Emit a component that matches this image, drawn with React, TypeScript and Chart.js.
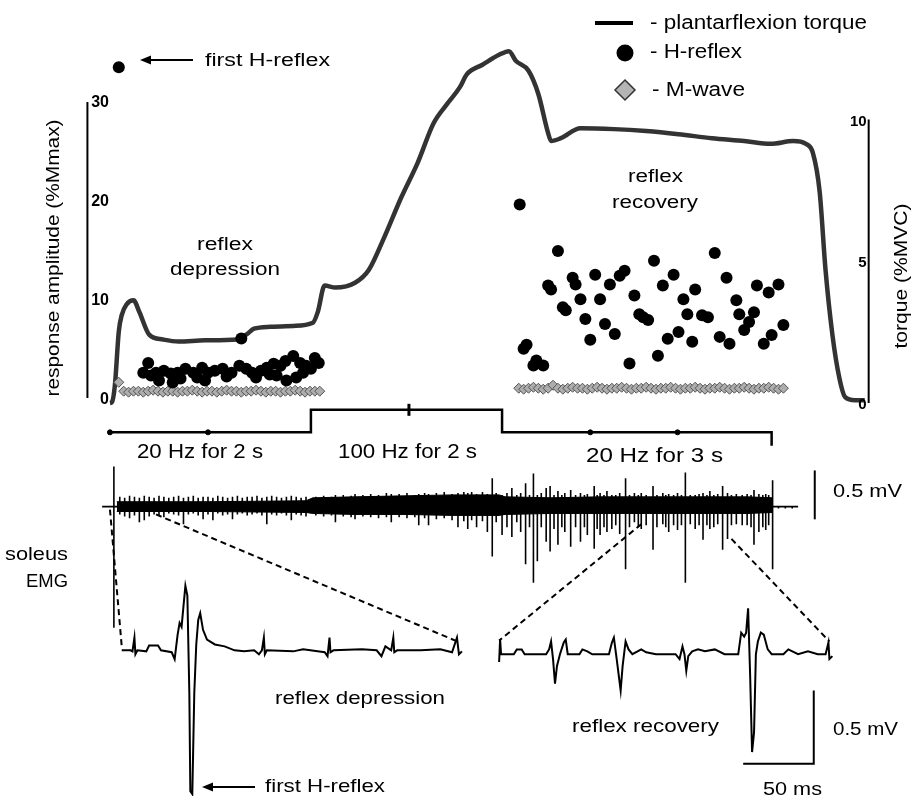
import { useEffect, useRef } from "react";
import { Chart, registerables } from "chart.js";

Chart.register(...registerables);

// ---------------- DATA ----------------
// Top panel: time in s, torque in %MVC
const torqueTime = [0.00,0.02,0.05,0.09,0.12,0.17,0.24,0.30,0.40,0.54,0.70,0.97,1.30,1.39,1.47,1.64,1.87,2.07,2.12,2.19,2.30,2.50,2.64,2.80,2.97,3.14,3.30,3.44,3.57,3.64,3.80,3.97,4.07,4.14,4.27,4.37,4.47,4.50,4.60,4.80,5.14,5.47,5.80,6.14,6.47,6.74,6.97,7.10,7.17,7.24,7.30,7.37,7.44,7.50,7.60,7.70];
const torqueValue = [0.00,0.03,0.62,2.52,3.10,3.48,3.62,3.21,2.41,2.24,2.17,2.21,2.24,2.41,2.62,2.69,2.72,2.83,3.21,4.14,4.07,4.24,4.69,5.86,7.24,8.48,9.86,10.55,11.14,11.59,11.93,12.28,12.41,12.07,11.72,10.90,9.52,9.24,9.34,9.69,9.66,9.59,9.48,9.34,9.24,9.14,9.24,9.14,8.83,7.45,4.69,2.41,0.90,0.21,0.10,0.10];

// H-reflex amplitude (%Mmax)
const hReflexTime = [0.09,
  0.34,0.39,0.42,0.47,0.50,0.55,0.62,0.64,0.69,0.72,0.77,0.85,0.89,0.94,0.97,1.00,1.07,1.15,1.19,1.24,1.32,1.34,1.39,1.45,1.49,1.54,1.60,1.63,1.67,1.70,1.74,1.79,1.80,1.87,1.90,1.94,1.97,2.00,2.05,2.09,2.13,
  4.18,4.22,4.25,4.32,4.35,4.42,4.47,4.50,4.57,4.62,4.65,4.72,4.75,4.80,4.85,4.90,4.95,5.00,5.05,5.10,5.15,5.20,5.25,5.30,5.35,5.40,5.44,5.49,5.55,5.59,5.64,5.69,5.75,5.80,5.85,5.89,5.94,5.97,6.04,6.10,6.17,6.22,6.29,6.32,6.39,6.42,6.47,6.52,6.57,6.60,6.67,6.72,6.75,6.82,6.87];
const hReflexAmp = [33.5,
  2.57,3.56,2.28,2.57,1.78,2.77,2.48,1.58,2.57,1.98,2.97,2.57,2.08,3.07,1.78,2.57,2.77,2.97,2.18,2.57,3.27,6.04,2.97,2.57,2.08,2.77,3.07,2.38,3.47,2.28,3.27,3.76,1.78,4.26,2.08,3.56,2.57,3.27,2.97,4.06,3.56,
  19.6,5.0,5.4,3.3,3.8,3.3,11.4,11.0,14.9,9.2,8.9,12.2,11.5,10.0,8.0,5.9,12.5,10.0,7.5,11.5,6.5,12.4,12.9,3.5,10.4,8.5,8.2,7.9,13.9,4.3,11.4,6.0,12.5,6.7,10.0,8.5,5.7,11.0,8.4,8.2,14.7,6.2,12.2,5.5,9.9,8.5,6.9,7.7,8.7,11.4,5.5,10.7,6.4,11.5,7.4];

// M-wave amplitude (%Mmax)
const mWaveTime = [0.09,0.14,0.19,0.24,0.29,0.34,0.39,0.44,0.49,0.54,0.59,0.64,0.69,0.74,0.79,0.84,0.89,0.94,0.99,1.04,1.09,1.14,1.19,1.24,1.29,1.34,1.39,1.44,1.49,1.54,1.59,1.64,1.69,1.74,1.79,1.84,1.89,1.94,1.99,2.04,2.09,2.14,
  4.17,4.22,4.27,4.32,4.37,4.42,4.47,4.52,4.57,4.62,4.67,4.72,4.77,4.82,4.87,4.92,4.97,5.02,5.07,5.12,5.17,5.22,5.27,5.32,5.37,5.42,5.47,5.52,5.57,5.62,5.67,5.72,5.77,5.82,5.87,5.92,5.97,6.02,6.07,6.12,6.17,6.22,6.27,6.32,6.37,6.42,6.47,6.52,6.57,6.62,6.67,6.72,6.77,6.82,6.87];
const mWaveAmp = [1.6,0.7,0.6,0.7,0.7,0.6,0.7,0.8,0.7,0.6,0.7,0.7,0.6,0.7,0.7,0.8,0.7,0.6,0.7,0.7,0.6,0.7,0.8,0.7,0.7,0.6,0.7,0.7,0.8,0.7,0.6,0.7,0.7,0.6,0.7,0.7,0.8,0.7,0.6,0.7,0.7,0.7,
  1.0,0.9,1.0,1.1,1.0,0.9,1.0,1.3,1.0,0.9,1.0,1.1,1.0,1.0,0.9,1.0,1.1,1.0,0.9,1.0,1.0,1.1,1.0,0.9,1.0,1.0,1.1,1.0,0.9,1.0,1.0,1.1,1.0,0.9,1.0,1.0,1.1,1.0,0.9,1.0,1.0,1.1,1.0,0.9,1.0,1.0,1.1,1.0,0.9,1.0,1.0,1.1,1.0,0.9,1.0];

// Stimulation timeline (level 0 = 20 Hz, 1 = 100 Hz)
const stimTime = [0, 2.05, 2.05, 4.0, 4.0, 6.75, 6.75];
const stimLevel = [0, 0, 1, 1, 0, 0, -0.6];
const stimDotTime = [0, 1.0, 4.9, 5.79];
const stimDotLevel = [0, 0, 0, 0];
const stimMarkTime = [3.05];
const stimMarkLevel = [1];

// Soleus EMG (mV): spike times, positive and negative peaks
const emgFirstTime = [0.04];
const emgFirstUp = [0.41];
const emgFirstDown = [-1.24];
const emg20aTime = [0.10,0.15,0.20,0.25,0.30,0.35,0.40,0.45,0.50,0.55,0.60,0.65,0.70,0.75,0.80,0.85,0.90,0.95,1.00,1.05,1.10,1.15,1.20,1.25,1.30,1.35,1.40,1.45,1.50,1.55,1.60,1.65,1.70,1.75,1.80,1.85,1.90,1.95,2.00];
const emg20aUp = [0.10,0.09,0.11,0.10,0.09,0.11,0.10,0.09,0.11,0.10,0.09,0.10,0.11,0.09,0.10,0.11,0.09,0.10,0.10,0.09,0.11,0.10,0.09,0.10,0.11,0.09,0.10,0.10,0.11,0.09,0.10,0.11,0.10,0.09,0.10,0.11,0.10,0.09,0.10];
const emg20aDown = [-0.08,-0.10,-0.12,-0.09,-0.16,-0.14,-0.10,-0.08,-0.09,-0.11,-0.07,-0.08,-0.09,-0.18,-0.08,-0.07,-0.09,-0.13,-0.08,-0.14,-0.07,-0.09,-0.08,-0.13,-0.08,-0.07,-0.09,-0.08,-0.07,-0.09,-0.18,-0.08,-0.09,-0.07,-0.09,-0.14,-0.08,-0.09,-0.10];
const emg100Time = [2.10,2.18,2.26,2.30,2.38,2.46,2.50,2.58,2.66,2.74,2.82,2.87,2.95,3.03,3.11,3.15,3.21,3.25,3.33,3.41,3.49,3.55,3.61,3.65,3.69,3.74,3.80,3.85,3.90,3.94];
const emg100Up = [0.10,0.11,0.10,0.12,0.12,0.11,0.13,0.12,0.13,0.12,0.14,0.13,0.13,0.14,0.12,0.13,0.14,0.13,0.14,0.15,0.13,0.14,0.15,0.14,0.15,0.13,0.15,0.13,0.29,0.14];
const emg100Down = [-0.09,-0.10,-0.09,-0.16,-0.10,-0.11,-0.13,-0.10,-0.11,-0.12,-0.11,-0.16,-0.11,-0.12,-0.11,-0.19,-0.12,-0.19,-0.13,-0.12,-0.14,-0.21,-0.15,-0.23,-0.14,-0.21,-0.15,-0.26,-0.51,-0.16];
const emg20bTime = [4.00,4.05,4.10,4.15,4.19,4.24,4.28,4.32,4.36,4.40,4.45,4.49,4.53,4.57,4.61,4.64,4.70,4.75,4.80,4.84,4.87,4.94,4.97,5.00,5.04,5.07,5.12,5.16,5.20,5.26,5.30,5.35,5.39,5.42,5.47,5.54,5.58,5.64,5.67,5.70,5.75,5.79,5.83,5.87,5.92,5.97,6.01,6.05,6.09,6.12,6.16,6.20,6.25,6.30,6.34,6.39,6.45,6.50,6.54,6.57,6.62,6.66,6.69,6.72,6.76];
const emg20bUp = [0.12,0.14,0.19,0.12,0.14,0.24,0.12,0.34,0.12,0.14,0.19,0.21,0.12,0.16,0.12,0.14,0.17,0.12,0.14,0.12,0.13,0.21,0.12,0.14,0.12,0.16,0.12,0.12,0.14,0.29,0.12,0.14,0.12,0.14,0.12,0.21,0.12,0.14,0.12,0.13,0.12,0.14,0.12,0.35,0.12,0.12,0.13,0.14,0.12,0.16,0.12,0.13,0.21,0.14,0.12,0.13,0.12,0.13,0.12,0.17,0.13,0.12,0.13,0.12,0.27];
const emg20bDown = [-0.29,-0.21,-0.31,-0.16,-0.26,-0.59,-0.21,-0.78,-0.56,-0.21,-0.36,-0.46,-0.23,-0.39,-0.21,-0.26,-0.41,-0.21,-0.36,-0.21,-0.29,-0.43,-0.23,-0.29,-0.21,-0.26,-0.23,-0.19,-0.28,-0.64,-0.21,-0.16,-0.21,-0.23,-0.19,-0.44,-0.21,-0.18,-0.21,-0.26,-0.19,-0.24,-0.19,-0.78,-0.18,-0.23,-0.19,-0.34,-0.19,-0.23,-0.21,-0.18,-0.44,-0.33,-0.19,-0.18,-0.19,-0.19,-0.21,-0.39,-0.26,-0.21,-0.24,-0.19,-0.64];
const emgTailTime = [6.82, 6.89, 6.96];
const emgTailUp = [0.01, 0.01, 0.01];
const emgTailDown = [-0.02, -0.02, -0.02];
// dense background activity envelope (mV)
const emgBandTime = [0.07,1.00,2.00,2.07,2.50,3.00,3.50,3.97,4.03,4.50,5.00,5.50,6.00,6.50,6.76];
const emgBandUpper = [0.05,0.05,0.06,0.09,0.10,0.11,0.12,0.12,0.10,0.09,0.10,0.10,0.10,0.10,0.09];
const emgBandLower = [-0.05,-0.05,-0.06,-0.07,-0.08,-0.08,-0.09,-0.09,-0.08,-0.07,-0.07,-0.07,-0.07,-0.07,-0.06];
const emgBarTime = [7.19, 7.19];
const emgBarValue = [-0.13, 0.37];

// Expanded sweeps: time in ms, mV
const zoomDepTime = [0,6.3,7.6,9.0,9.7,11.1,17.4,19.4,25.7,27.8,35.4,37.5,39.6,41.0,42.4,43.8,45.1,46.5,47.9,48.6,50.0,51.4,52.8,54.2,55.6,57.6,60.4,66.0,72.9,79.9,86.8,93.8,97.2,99.3,100.7,101.4,102.8,121.5,128.5,143.8,145.8,147.2,147.9,150.0,170.1,180.6,184.0,186.8,190.9,192.4,193.1,195.1,211.8,225.7,234.0,237.5,238.9,241.0];
const zoomDepValue = [0,0,-0.007,0.087,-0.027,0,-0.007,0.033,0.033,0,-0.013,-0.06,0.107,0.187,0.16,0.307,0.44,0.373,-0.293,-0.96,-0.98,-0.293,0.04,0.207,0.253,0.14,0.073,0.04,0.027,0,-0.007,0,-0.027,0,0.087,-0.027,0,-0.007,0.007,-0.013,-0.04,0.087,-0.013,0,0.007,0,-0.04,0.027,0,0.087,-0.013,0,0,0.007,-0.013,0.087,-0.027,-0.007];
const zoomRecTime = [0,0.7,1.4,10.4,12.5,16.0,18.1,33.3,35.4,36.8,38.2,39.6,41.0,43.1,45.8,47.2,48.6,56.9,59.0,62.5,66.0,77.8,79.9,81.3,83.3,86.1,87.5,89.6,91.7,94.4,100.7,104.2,111.1,125.0,127.8,129.9,131.3,132.6,134.0,136.8,140.9,145.8,152.8,159.7,169.4,171.5,173.6,175.0,176.4,177.8,179.2,180.6,181.9,183.3,185.4,187.5,190.3,193.1,201.4,204.9,211.8,218.8,225.7,231.3,233.3,234.0,236.1];
const zoomRecValue = [-0.053,0.1,0,0,0.033,0.033,0,0,0.033,0.087,-0.033,-0.2,-0.08,0,0.08,0.1,0,0,0.033,0.02,0,0,0.08,0.113,-0.033,-0.247,-0.08,0.087,0.033,0,0.033,0.013,0,0,-0.033,0.053,0,-0.113,-0.013,0.02,0.033,0.02,0.033,0,0,0.147,0.12,0.147,0.313,-0.133,-0.667,-0.533,0,0.087,0.147,0.133,0.033,0,0,0.033,0,0.02,0,0,0.08,-0.033,-0.013];
const zoomBarTime = [172.9, 222.9, 222.9];
const zoomBarValue = [-0.747, -0.747, -0.247];

// Axis ticks
const ampTicks = [0, 10, 20, 30];
const torqueTicks = [0, 5, 10];

// ---------------- HELPERS ----------------
const FONT = '"Liberation Sans", Arial, Helvetica, sans-serif';
const pts = (xs: number[], ys: number[]) => xs.map((x, i) => ({ x, y: ys[i] }));

function drawText(ctx: any, str: string, x: number, y: number, w: number, size: number,
  align: string = "center", rotate = 0, bold = false, baseline: string = "alphabetic") {
  ctx.save();
  ctx.font = `${bold ? "bold " : ""}${size}px ${FONT}`;
  ctx.textAlign = align;
  ctx.textBaseline = baseline;
  const m = ctx.measureText(str).width;
  ctx.translate(x, y);
  if (rotate) ctx.rotate(rotate);
  if (w) ctx.scale(w / m, 1);
  ctx.fillStyle = "#000";
  ctx.fillText(str, 0, 0);
  ctx.restore();
}

function seg(ctx: any, x1: number, y1: number, x2: number, y2: number, w: number, dash: number[] = []) {
  ctx.save();
  ctx.lineWidth = w;
  ctx.strokeStyle = "#000";
  ctx.setLineDash(dash);
  ctx.beginPath();
  ctx.moveTo(x1, y1);
  ctx.lineTo(x2, y2);
  ctx.stroke();
  ctx.restore();
}

function arrowLeft(ctx: any, tipX: number, endX: number, y: number) {
  seg(ctx, tipX + 6, y, endX, y, 2);
  ctx.save();
  ctx.fillStyle = "#000";
  ctx.beginPath();
  ctx.moveTo(tipX, y);
  ctx.lineTo(tipX + 11, y - 4.5);
  ctx.lineTo(tipX + 11, y + 4.5);
  ctx.closePath();
  ctx.fill();
  ctx.restore();
}

const annotations = {
  id: "annotations",
  beforeDraw(chart: any) {
    const { ctx, width, height } = chart;
    ctx.save();
    ctx.fillStyle = "#fff";
    ctx.fillRect(0, 0, width, height);
    ctx.restore();
  },
  afterDraw(chart: any) {
    const { ctx, scales } = chart;
    const P = (id: string, v: number) => scales[id].getPixelForValue(v);

    // left axis (response amplitude)
    const ax = P("x", -0.23);
    seg(ctx, ax, P("yAmp", 0), ax, P("yAmp", 30), 2);
    ampTicks.forEach((v) => drawText(ctx, String(v), P("x", -0.01), P("yAmp", v) + 1, 0, 16, "right", 0, true, "middle"));
    drawText(ctx, "response amplitude (%Mmax)", 54, 258, 277, 18, "center", -Math.PI / 2, false, "middle");

    // right axis (torque)
    const rx = P("x", 7.74);
    seg(ctx, rx, P("yTq", 0), rx, P("yTq", 10), 2);
    torqueTicks.forEach((v) => drawText(ctx, String(v), P("x", 7.72), P("yTq", v) + 2, 0, 15, "right", 0, true, "middle"));
    drawText(ctx, "torque (%MVC)", 902, 276, 145, 19, "center", -Math.PI / 2, false, "middle");

    // legend
    seg(ctx, 595, 23, 633, 23, 4);
    ctx.save();
    ctx.fillStyle = "#000";
    ctx.beginPath();
    ctx.arc(625, 53, 8.5, 0, Math.PI * 2);
    ctx.fill();
    ctx.beginPath();
    ctx.moveTo(625, 80); ctx.lineTo(635, 90); ctx.lineTo(625, 100); ctx.lineTo(615, 90); ctx.closePath();
    ctx.fillStyle = "#b4b4b4"; ctx.fill();
    ctx.lineWidth = 1.5; ctx.strokeStyle = "#333"; ctx.stroke();
    ctx.restore();
    drawText(ctx, "- plantarflexion torque", 650, 29, 217, 20, "left");
    drawText(ctx, "- H-reflex", 650, 58, 92, 20, "left");
    drawText(ctx, "- M-wave", 652, 96, 93, 20, "left");

    // top panel labels
    arrowLeft(ctx, 140, 193, 60);
    drawText(ctx, "first H-reflex", 267.5, 66, 125, 18);
    drawText(ctx, "reflex", 225, 250, 56, 18);
    drawText(ctx, "depression", 225, 275, 110, 18);
    drawText(ctx, "reflex", 655.5, 182, 55, 18);
    drawText(ctx, "recovery", 655, 208, 86, 18);

    // stimulation labels
    drawText(ctx, "20 Hz for 2 s", 200, 458, 126, 20);
    drawText(ctx, "100 Hz for 2 s", 407.5, 458, 139, 20);
    drawText(ctx, "20 Hz for 3 s", 654.5, 462, 137, 20);

    // EMG labels
    drawText(ctx, "0.5 mV", 833, 497, 69, 19, "left");
    drawText(ctx, "soleus", 68, 560, 63, 19, "right");
    drawText(ctx, "EMG", 68, 587, 42, 19, "right");

    // dashed connectors from EMG trace to expanded sweeps
    const dash = [6, 4];
    seg(ctx, P("x", 0.0), P("yEmg", -0.03), P("xzL", 0), P("yZL", 0.027), 2, dash);
    seg(ctx, P("x", 0.47), P("yEmg", -0.08), P("xzL", 239.6), P("yZL", 0.053), 2, dash);
    seg(ctx, P("x", 5.42), P("yEmg", -0.18), P("xzR", 0), P("yZR", 0.093), 2, dash);
    seg(ctx, P("x", 6.34), P("yEmg", -0.33), P("xzR", 234), P("yZR", 0.087), 2, dash);

    // bottom labels
    drawText(ctx, "reflex depression", 360, 704, 170, 19);
    arrowLeft(ctx, 202, 255, 787);
    drawText(ctx, "first H-reflex", 325, 792, 120, 19);
    drawText(ctx, "reflex recovery", 645.5, 732, 147, 19);
    drawText(ctx, "0.5 mV", 833, 735, 65, 19, "left");
    drawText(ctx, "50 ms", 792.5, 795, 59, 19);
  },
};

export default function App() {
  const ref = useRef<HTMLCanvasElement>(null);

  useEffect(() => {
    const canvas = ref.current as HTMLCanvasElement;
    const emgPoints: { x: number; y: number }[] = [{ x: -0.08, y: 0 }];
    const addSpikes = (ts: number[], ups: number[], dns: number[]) =>
      ts.forEach((t, i) => {
        emgPoints.push({ x: t, y: 0 }, { x: t, y: ups[i] }, { x: t, y: dns[i] }, { x: t, y: 0 });
      });
    addSpikes(emgFirstTime, emgFirstUp, emgFirstDown);
    addSpikes(emg20aTime, emg20aUp, emg20aDown);
    addSpikes(emg100Time, emg100Up, emg100Down);
    addSpikes(emg20bTime, emg20bUp, emg20bDown);
    addSpikes(emgTailTime, emgTailUp, emgTailDown);
    emgPoints.push({ x: 7.02, y: 0 });

    const lineBase = { pointRadius: 0, tension: 0, fill: false, borderColor: "#000" };

    const chart = new Chart(canvas, {
      type: "line",
      data: {
        datasets: [
          {
            type: "line", label: "plantarflexion torque", data: pts(torqueTime, torqueValue),
            xAxisID: "x", yAxisID: "yTq", borderColor: "#333", borderWidth: 4.5, pointRadius: 0,
            cubicInterpolationMode: "monotone", fill: false, order: 3,
          },
          {
            type: "scatter", label: "M-wave", data: pts(mWaveTime, mWaveAmp), xAxisID: "x", yAxisID: "yAmp",
            pointStyle: "rectRot", pointRadius: 5, backgroundColor: "#adadad", borderColor: "#555", borderWidth: 1, order: 2,
          },
          {
            type: "scatter", label: "H-reflex", data: pts(hReflexTime, hReflexAmp), xAxisID: "x", yAxisID: "yAmp",
            pointRadius: 6, backgroundColor: "#000", borderColor: "#000", borderWidth: 0, order: 1,
          },
          { type: "line", label: "stimulation", data: pts(stimTime, stimLevel), xAxisID: "x", yAxisID: "yStim", ...lineBase, borderWidth: 2.5 },
          {
            type: "scatter", label: "stim ticks", data: pts(stimDotTime, stimDotLevel), xAxisID: "x", yAxisID: "yStim",
            pointRadius: 2.5, backgroundColor: "#000", borderColor: "#000",
          },
          {
            type: "scatter", label: "stim mark", data: pts(stimMarkTime, stimMarkLevel), xAxisID: "x", yAxisID: "yStim",
            pointStyle: "line", rotation: 90, pointRadius: 6, borderWidth: 3, borderColor: "#000",
          },
          {
            type: "line", label: "EMG band upper", data: pts(emgBandTime, emgBandUpper), xAxisID: "x", yAxisID: "yEmg",
            ...lineBase, borderWidth: 1, fill: "+1", backgroundColor: "#000",
          },
          { type: "line", label: "EMG band lower", data: pts(emgBandTime, emgBandLower), xAxisID: "x", yAxisID: "yEmg", ...lineBase, borderWidth: 1 },
          { type: "line", label: "soleus EMG", data: emgPoints, xAxisID: "x", yAxisID: "yEmg", ...lineBase, borderWidth: 1.6 },
          { type: "line", label: "EMG scale", data: pts(emgBarTime, emgBarValue), xAxisID: "x", yAxisID: "yEmg", ...lineBase, borderWidth: 2 },
          { type: "line", label: "reflex depression sweep", data: pts(zoomDepTime, zoomDepValue), xAxisID: "xzL", yAxisID: "yZL", ...lineBase, borderWidth: 2 },
          { type: "line", label: "reflex recovery sweep", data: pts(zoomRecTime, zoomRecValue), xAxisID: "xzR", yAxisID: "yZR", ...lineBase, borderWidth: 2 },
          { type: "line", label: "sweep scale", data: pts(zoomBarTime, zoomBarValue), xAxisID: "xzR", yAxisID: "yZR", ...lineBase, borderWidth: 2 },
        ] as any,
      },
      options: {
        responsive: false,
        animation: false,
        events: [],
        layout: { padding: 0 },
        plugins: { legend: { display: false }, tooltip: { enabled: false }, title: { display: false } },
        scales: {
          x: { type: "linear", axis: "x", display: false, min: -1.03, max: 8.08 },
          xzL: { type: "linear", axis: "x", display: false, min: -79.861, max: 552.778 },
          xzR: { type: "linear", axis: "x", display: false, min: -347.222, max: 285.417 },
          yAmp: { type: "linear", axis: "y", display: false, min: -40.297, max: 39.406 },
          yTq: { type: "linear", axis: "y", display: false, min: -13.862, max: 13.897 },
          yEmg: { type: "linear", axis: "y", display: false, min: -2.96, max: 5.09 },
          yStim: { type: "linear", axis: "y", display: false, min: -16.174, max: 18.826 },
          yZL: { type: "linear", axis: "y", display: false, min: -0.9933, max: 4.3733 },
          yZR: { type: "linear", axis: "y", display: false, min: -0.9667, max: 4.4 },
        } as any,
      },
      plugins: [annotations as any],
    });
    return () => chart.destroy();
  }, []);

  return (
    <div style={{ position: "absolute", left: 0, top: 0, width: 911, height: 805, background: "#fff" }}>
      <canvas ref={ref} width={911} height={805} style={{ display: "block", width: 911, height: 805 }} />
    </div>
  );
}
